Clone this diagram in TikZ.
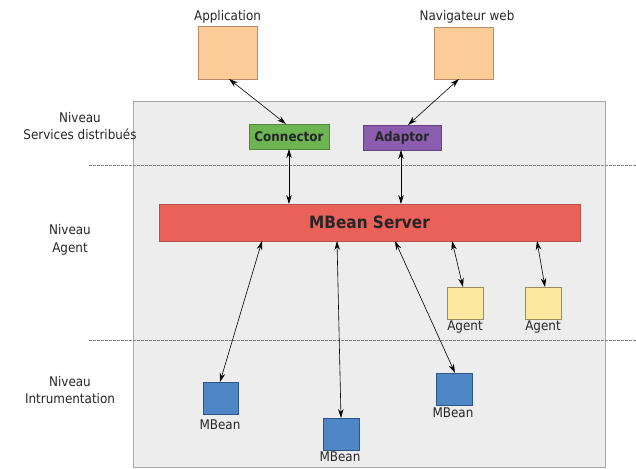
\documentclass[tikz,border=0pt]{standalone}
\usepackage{fontspec}
\setmainfont[FakeStretch=0.9]{DejaVu Sans}
\usetikzlibrary{arrows.meta}
\definecolor{bgfill}{HTML}{EDEDED}
\definecolor{bgdraw}{HTML}{A8A8A8}
\definecolor{peach}{HTML}{FBCB98}
\definecolor{peachd}{HTML}{B88A66}
\definecolor{conng}{HTML}{6DB552}
\definecolor{conngd}{HTML}{4F8A3A}
\definecolor{adapp}{HTML}{8A5DAE}
\definecolor{adappd}{HTML}{654285}
\definecolor{srvred}{HTML}{EA615A}
\definecolor{srvredd}{HTML}{B8504A}
\definecolor{agy}{HTML}{FDE8A0}
\definecolor{agyd}{HTML}{9C8A60}
\definecolor{mbb}{HTML}{4E86C6}
\definecolor{mbbd}{HTML}{2E5788}
\definecolor{dashc}{HTML}{8A8480}
\begin{document}
\begin{tikzpicture}[x=1pt,y=-1pt,
  lbl/.style={font=\fontsize{13.3}{17.5}\selectfont, inner sep=0pt, text=black!85},
  boxnode/.style={draw, line width=0.8pt, inner sep=0pt},
  dbl/.style={{Stealth[length=9pt,width=5.5pt]}-{Stealth[length=9pt,width=5.5pt]}, line width=0.6pt, black},
  dashl/.style={dashc, dashed, dash pattern=on 3pt off 1pt, line width=0.7pt}
]
\useasboundingbox (0,0) rectangle (636,468);
% background panel
\fill[bgfill, draw=bgdraw, line width=0.7pt] (133,101) rectangle (605,467);
% dashed separators
\draw[dashl] (89,165) -- (636,165);
\draw[dashl] (89,340) -- (636,340);
% level labels
\node[lbl, align=center] (lv1) at (80,126) {Niveau\\Services distribués};
\node[lbl, align=center] (lv2) at (70,240) {Niveau\\Agent};
\node[lbl, align=center] (lv3) at (70,390) {Niveau\\Intrumentation};
% external boxes
\node[boxnode, fill=peach, draw=peachd, minimum width=59pt, minimum height=53pt] (app) at (227.5,52.5) {};
\node[lbl, anchor=south] (appl) at (227.5,23) {Application};
\node[boxnode, fill=peach, draw=peachd, minimum width=59pt, minimum height=52pt] (nav) at (463.5,53) {};
\node[lbl, anchor=south] (navl) at (467,23) {Navigateur web};
% connector / adaptor
\node[boxnode, fill=conng, draw=conngd, minimum width=80pt, minimum height=25pt, font=\fontsize{13.3}{15}\selectfont\bfseries, text=black!85] (conn) at (289,136.5) {Connector};
\node[boxnode, fill=adapp, draw=adappd, minimum width=78pt, minimum height=25pt, font=\fontsize{13.3}{15}\selectfont\bfseries, text=black!85] (adap) at (402,137.5) {Adaptor};
% MBean server
\node[boxnode, fill=srvred, draw=srvredd, minimum width=421pt, minimum height=37pt, font=\fontsize{17}{19}\selectfont\bfseries, text=black!85] (srv) at (369.5,222.5) {MBean Server};
% agents
\node[boxnode, fill=agy, draw=agyd, minimum width=36pt, minimum height=32pt] (ag1) at (465,303) {};
\node[lbl, anchor=north] (ag1l) at (465,321) {Agent};
\node[boxnode, fill=agy, draw=agyd, minimum width=36pt, minimum height=32pt] (ag2) at (543,303) {};
\node[lbl, anchor=north] (ag2l) at (543,321) {Agent};
% MBeans
\node[boxnode, fill=mbb, draw=mbbd, minimum width=35pt, minimum height=32pt] (mb1) at (220.5,398) {};
\node[lbl, anchor=north] (mb1l) at (220,420) {MBean};
\node[boxnode, fill=mbb, draw=mbbd, minimum width=36pt, minimum height=32pt] (mb2) at (341,434) {};
\node[lbl, anchor=north] (mb2l) at (340,452) {MBean};
\node[boxnode, fill=mbb, draw=mbbd, minimum width=36pt, minimum height=32pt] (mb3) at (454,389) {};
\node[lbl, anchor=north] (mb3l) at (453,408) {MBean};
% coordinates for connector ends
\coordinate (appb) at (229,79);
\coordinate (connt) at (286,124);
\coordinate (navb) at (459,79);
\coordinate (adapt) at (408,125);
\coordinate (connb) at (289,149);
\coordinate (srvt1) at (289,204);
\coordinate (adapb) at (401,150);
\coordinate (srvt2) at (401,204);
\coordinate (s1) at (262,241);
\coordinate (s2) at (337,241);
\coordinate (s3) at (395,241);
\coordinate (s4) at (452,241);
\coordinate (s5) at (537,241);
\coordinate (m1) at (220,382);
\coordinate (m2) at (341,418);
\coordinate (m3) at (455,373);
\coordinate (a1) at (463,287);
\coordinate (a2) at (545,287);
% arrows
\draw[dbl] (appb) -- (connt);
\draw[dbl] (navb) -- (adapt);
\draw[dbl] (connb) -- (srvt1);
\draw[dbl] (adapb) -- (srvt2);
\draw[dbl] (s1) -- (m1);
\draw[dbl] (s2) -- (m2);
\draw[dbl] (s3) -- (m3);
\draw[dbl] (s4) -- (a1);
\draw[dbl] (s5) -- (a2);
\end{tikzpicture}
\end{document}
